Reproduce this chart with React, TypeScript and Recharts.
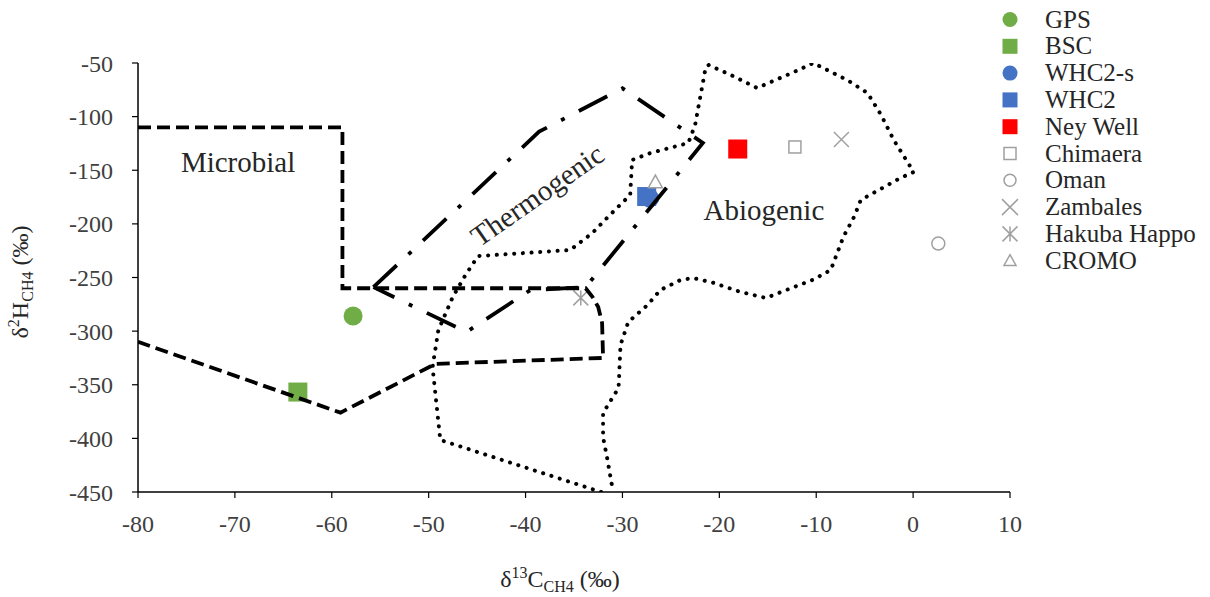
import { Legend, ReferenceDot, Scatter, ScatterChart, XAxis, YAxis, Label } from "recharts";

const FONT = '"Liberation Serif", "Times New Roman", serif';
const INK = "#262626";

const X_TICKS = [-80, -70, -60, -50, -40, -30, -20, -10, 0, 10];
const Y_TICKS = [-450, -400, -350, -300, -250, -200, -150, -100, -50];

// genetic field outlines, [δ13C, δ2H]
const microbialEdge: [number, number][] = [
  [-80, -110], [-58.9, -110], [-58.9, -260], [-33.8, -260], [-33.1, -268],
  [-32.5, -277.5], [-32.1, -292.4], [-32, -325], [-49.3, -330.5], [-59.1, -376], [-80, -310],
];

const thermogenicEdge: [number, number][] = [
  [-55.7, -259], [-38.6, -114], [-30, -73.6], [-21.7, -124.6], [-33.8, -259],
  [-39.5, -261.7], [-46.1, -300.8], [-55.7, -259],
];

const abiogenicEdge: [number, number][] = [
  [-32.2, -450], [-48.8, -401.5], [-49.6, -333.5], [-49, -299], [-47.5, -268],
  [-46.2, -247.7], [-44.9, -230], [-35.4, -224.4], [-33.1, -208.5], [-31.5, -193.6],
  [-29.2, -173], [-29, -140.4], [-27.1, -133.9], [-23.2, -124.6], [-22.5, -107.8],
  [-21.4, -53.7], [-21.1, -51.9], [-18.8, -61.2], [-16.1, -73.3], [-12.3, -58.4],
  [-10.3, -50], [-6.8, -65.9], [-4.7, -78], [-3.3, -98.5], [-2, -121.8], [0.06, -151.6],
  [-1.3, -157.2], [-5.4, -177.7], [-6.1, -193.6], [-7.2, -212.2], [-8.5, -243],
  [-10.3, -252], [-12.3, -258.9], [-15.2, -269.1], [-17.8, -263.5], [-20.6, -255],
  [-22.7, -250.5], [-24, -252.3], [-26.1, -261.7], [-27.4, -275.6], [-29.4, -291.5],
  [-30.2, -313], [-30.4, -353], [-32, -376.3], [-32, -398.7], [-31.6, -417.4], [-31, -448],
];

// samples
const sampleNames = ["GPS", "BSC", "WHC2-s", "WHC2", "Ney Well", "Chimaera", "Oman", "Zambales", "Hakuba Happo", "CROMO"];
const sampleD13C = [-57.8, -63.5, -27.2, -27.5, -18.1, -12.2, 2.6, -7.4, -34.3, -26.6];
const sampleD2H = [-285.9, -356.8, -176, -174.5, -130.2, -128.3, -218.3, -121.3, -269, -161];

type Kind = "dot" | "square" | "openSquare" | "openDot" | "cross" | "star" | "triangle";
const sampleKinds: Kind[] = ["dot", "square", "dot", "square", "square", "openSquare", "openDot", "cross", "star", "triangle"];
const sampleColors = ["#70AD47", "#70AD47", "#4472C4", "#4472C4", "#FF0000", "#A0A0A0", "#A0A0A0", "#A0A0A0", "#A0A0A0", "#A0A0A0"];

const PLOT_SIZE: Record<Kind, number> = { dot: 19, square: 19, openSquare: 12, openDot: 13, cross: 15, star: 15, triangle: 14 };
const KEY_SIZE: Record<Kind, number> = { dot: 15, square: 15, openSquare: 12, openDot: 12, cross: 16, star: 15, triangle: 12 };

const toPoints = (edge: [number, number][]) => edge.map(([x, y]) => ({ x, y }));

function Marker({ kind, color, cx, cy, size }: { kind: Kind; color: string; cx: number; cy: number; size: number }) {
  const h = size / 2;
  switch (kind) {
    case "dot":
      return <circle cx={cx} cy={cy} r={h} fill={color} />;
    case "square":
      return <rect x={cx - h} y={cy - h} width={size} height={size} fill={color} />;
    case "openSquare":
      return <rect x={cx - h} y={cy - h} width={size} height={size} fill="#fff" stroke={color} strokeWidth={1.5} />;
    case "openDot":
      return <circle cx={cx} cy={cy} r={h} fill="#fff" stroke={color} strokeWidth={1.5} />;
    case "cross":
      return (
        <path d={`M${cx - h},${cy - h}L${cx + h},${cy + h}M${cx - h},${cy + h}L${cx + h},${cy - h}`} stroke={color} strokeWidth={1.5} fill="none" />
      );
    case "star":
      return (
        <path
          d={`M${cx - h},${cy - h}L${cx + h},${cy + h}M${cx - h},${cy + h}L${cx + h},${cy - h}M${cx},${cy - h}L${cx},${cy + h}`}
          stroke={color}
          strokeWidth={1.5}
          fill="none"
        />
      );
    case "triangle":
      return <path d={`M${cx},${cy - h}L${cx + h},${cy + h * 0.8}L${cx - h},${cy + h * 0.8}Z`} fill="#fff" stroke={color} strokeWidth={1.5} />;
  }
}

const regionLabel = (text: string, angle: number) => (props: any) => {
  const vb = props.viewBox;
  const cx = vb.x + vb.width / 2;
  const cy = vb.y + vb.height / 2;
  return (
    <text
      x={cx}
      y={cy}
      textAnchor="middle"
      dominantBaseline="central"
      transform={angle ? `rotate(${angle} ${cx} ${cy})` : undefined}
      fontFamily={FONT}
      fontSize={29}
      fill={INK}
    >
      {text}
    </text>
  );
};

function SampleKey() {
  return (
    <svg width={210} height={280}>
      {sampleNames.map((name, i) => {
        const cy = 19.5 + i * 26.8;
        return (
          <g key={name}>
            <Marker kind={sampleKinds[i]} color={sampleColors[i]} cx={10} cy={cy} size={KEY_SIZE[sampleKinds[i]]} />
            <text x={45} y={cy + 8} fontFamily={FONT} fontSize={25} fill={INK}>
              {name}
            </text>
          </g>
        );
      })}
    </svg>
  );
}

const edgeStyle = { fill: "none" };

export default function App() {
  return (
    <div style={{ position: "absolute", left: 0, top: 0, background: "#fff" }}>
      <ScatterChart width={1210} height={597} margin={{ top: 63, right: 200, bottom: 0, left: 0 }}>
        <XAxis
          type="number"
          dataKey="x"
          domain={[-80, 10]}
          ticks={X_TICKS}
          height={105}
          tickSize={6}
          tickMargin={17}
          axisLine={{ stroke: "#000", strokeWidth: 1.5 }}
          tickLine={{ stroke: "#000", strokeWidth: 1.2 }}
          tick={{ fontFamily: FONT, fontSize: 24, fill: "#404040" }}
          allowDataOverflow
        >
          <Label
            content={(p: any) => {
              const vb = p.viewBox;
              const cx = vb.x + vb.width / 2 - 14;
              return (
                <text x={cx} y={vb.y + 95} textAnchor="middle" fontFamily={FONT} fontSize={24} fill={INK}>
                  δ<tspan fontSize={16} dy={-9}>13</tspan>
                  <tspan dy={9}>C</tspan>
                  <tspan fontSize={16} dy={5}>CH4</tspan>
                  <tspan dy={-5}> (‰)</tspan>
                </text>
              );
            }}
          />
        </XAxis>
        <YAxis
          type="number"
          dataKey="y"
          domain={[-450, -50]}
          ticks={Y_TICKS}
          width={138}
          tickSize={6}
          tickMargin={19}
          axisLine={{ stroke: "#000", strokeWidth: 1.5 }}
          tickLine={{ stroke: "#000", strokeWidth: 1.2 }}
          tick={{ fontFamily: FONT, fontSize: 24, fill: "#404040" }}
          allowDataOverflow
        >
          <Label
            content={() => (
              <text x={28} y={282} textAnchor="middle" transform="rotate(-90 28 282)" fontFamily={FONT} fontSize={24} fill={INK}>
                δ<tspan fontSize={16} dy={-9}>2</tspan>
                <tspan dy={9}>H</tspan>
                <tspan fontSize={16} dy={5}>CH4</tspan>
                <tspan dy={-5}> (‰)</tspan>
              </text>
            )}
          />
        </YAxis>

        {sampleNames.map((name, i) => (
          <Scatter
            key={name}
            name={name}
            data={[{ x: sampleD13C[i], y: sampleD2H[i] }]}
            isAnimationActive={false}
            shape={(p: any) => (
              <Marker kind={sampleKinds[i]} color={sampleColors[i]} cx={p.cx} cy={p.cy} size={PLOT_SIZE[sampleKinds[i]]} />
            )}
          />
        ))}

        <Scatter
          data={toPoints(abiogenicEdge)}
          isAnimationActive={false}
          legendType="none"
          shape={() => <g />}
          line={{ ...edgeStyle, stroke: "#000", strokeWidth: 4, strokeDasharray: "0.1 8.6", strokeLinecap: "round" }}
        />
        <Scatter
          data={toPoints(microbialEdge)}
          isAnimationActive={false}
          legendType="none"
          shape={() => <g />}
          line={{ ...edgeStyle, stroke: "#000", strokeWidth: 3.8, strokeDasharray: "13 6" }}
        />
        <Scatter
          data={toPoints(thermogenicEdge)}
          isAnimationActive={false}
          legendType="none"
          shape={() => <g />}
          line={{ ...edgeStyle, stroke: "#000", strokeWidth: 3.8, strokeDasharray: "32 16 4 16" }}
        />

        <ReferenceDot x={-69.67} y={-142.3} r={1} fill="none" stroke="none" label={regionLabel("Microbial", 0)} />
        <ReferenceDot x={-38.8} y={-173} r={1} fill="none" stroke="none" label={regionLabel("Thermogenic", -35)} />
        <ReferenceDot x={-15.4} y={-187} r={1} fill="none" stroke="none" label={regionLabel("Abiogenic", 0)} />

        {/* centred/middle keeps the key out of the plot offset; wrapperStyle places it */}
        <Legend
          layout="vertical"
          verticalAlign="middle"
          align="center"
          wrapperStyle={{ position: "absolute", left: 1000, top: 0, width: 210, height: 280 }}
          content={() => <SampleKey />}
        />
      </ScatterChart>
    </div>
  );
}
